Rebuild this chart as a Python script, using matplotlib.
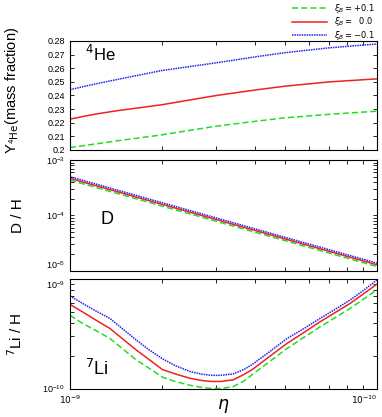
import matplotlib
matplotlib.use('Agg')
import matplotlib.pyplot as plt
from matplotlib.ticker import FixedLocator, FuncFormatter, NullFormatter

plt.rcParams['font.family'] = ['Liberation Sans', 'DejaVu Sans']
plt.rcParams['mathtext.fontset'] = 'dejavusans'

labels = [r'$\xi_B = +0.1$', r'$\xi_B =\ \ 0.0$', r'$\xi_B = -0.1$']
colors = ['#22dd22', '#ee2222', '#2222ee']
styles = [(0, (4, 2)), '-', (0, (1, 0.6))]

# helium-4 mass fraction, eta in units of 1e-10
eta_he = [1.0, 1.2, 1.42, 1.99, 2.5, 3.0, 4.0, 5.0, 7.0, 10.0]
he_plus = [0.2018, 0.2043, 0.2067, 0.2111, 0.2147, 0.2175, 0.2210, 0.2236, 0.2262, 0.2285]
he_zero = [0.2227, 0.2262, 0.2288, 0.2332, 0.2370, 0.2400, 0.2440, 0.2468, 0.2500, 0.2522]
he_minus = [0.2443, 0.2483, 0.2517, 0.2583, 0.2615, 0.2640, 0.2683, 0.2714, 0.2750, 0.2778]

# deuterium
eta_d = [1.0, 2.0, 3.0, 5.0, 10.0]
d_plus = [4.32e-4, 1.46e-4, 7.76e-5, 3.49e-5, 1.18e-5]
d_zero = [4.65e-4, 1.57e-4, 8.34e-5, 3.75e-5, 1.27e-5]
d_minus = [4.98e-4, 1.68e-4, 8.92e-5, 4.01e-5, 1.36e-5]

# lithium-7 (units of 1e-10)
eta_li = [1.0, 1.1, 1.2, 1.35, 1.5, 1.65, 1.8, 2.0, 2.2, 2.46, 2.7, 2.9,
          3.1, 3.4, 3.7, 3.95, 4.5, 5.08, 5.8, 6.52, 7.3, 8.17, 9.0, 10.0]
li_plus = [4.67, 3.92, 3.45, 2.86, 2.25, 1.81, 1.55, 1.27, 1.16, 1.07, 1.02, 1.0,
           1.0, 1.04, 1.18, 1.36, 1.79, 2.31, 2.95, 3.65, 4.44, 5.38, 6.5, 8.0]
li_zero = [5.86, 5.0, 4.3, 3.53, 2.77, 2.23, 1.86, 1.49, 1.36, 1.24, 1.18, 1.16,
           1.16, 1.20, 1.35, 1.51, 1.99, 2.57, 3.27, 4.06, 4.93, 5.98, 7.26, 9.0]
li_minus = [7.0, 5.98, 5.2, 4.36, 3.42, 2.75, 2.28, 1.87, 1.62, 1.43, 1.35, 1.32,
            1.32, 1.36, 1.50, 1.68, 2.20, 2.85, 3.55, 4.36, 5.28, 6.42, 7.8, 9.8]

fig = plt.figure(figsize=(3.82, 4.17), dpi=100)
ax1 = fig.add_axes([0.1832, 0.6403, 0.8037, 0.2614])
ax2 = fig.add_axes([0.1832, 0.3513, 0.8037, 0.2650])
ax3 = fig.add_axes([0.1832, 0.0683, 0.8037, 0.2626])

def scale(vals, f):
    return [v * f for v in vals]

handles = []
for ys, c, ls, lab in zip([he_plus, he_zero, he_minus], colors, styles, labels):
    h, = ax1.plot(scale(eta_he, 1e-10), ys, color=c, ls=ls, lw=1.1, label=lab)
    handles.append(h)
for ys, c, ls in zip([d_plus, d_zero, d_minus], colors, styles):
    ax2.plot(scale(eta_d, 1e-10), ys, color=c, ls=ls, lw=1.1)
for ys, c, ls in zip([li_plus, li_zero, li_minus], colors, styles):
    ax3.plot(scale(eta_li, 1e-10), scale(ys, 1e-10), color=c, ls=ls, lw=1.1)

for ax in (ax1, ax2, ax3):
    ax.set_xscale('log')
    ax.set_xlim(1e-10, 1e-9)
    ax.tick_params(which='both', direction='in', top=True, right=True,
                   labelsize=6.5, length=3, width=0.6)
    for s in ax.spines.values():
        s.set_linewidth(0.8)
    ax.xaxis.set_minor_formatter(NullFormatter())

ax1.set_ylim(0.2, 0.28)
ax1.yaxis.set_major_locator(FixedLocator([0.2 + 0.01 * i for i in range(9)]))
ax1.yaxis.set_major_formatter(FuncFormatter(lambda v, p: f'{v:.2f}'.rstrip('0')))
ax1.set_xticklabels([])
ax1.set_ylabel(r'Y$_{^4\mathrm{He}}$(mass fraction)', fontsize=10.5)
ax1.yaxis.set_label_coords(-0.16, 0.55)
ax1.text(0.05, 0.82, r'$^4$He', transform=ax1.transAxes, fontsize=12)

ax2.set_yscale('log')
ax2.set_ylim(1e-5, 1e-3)
ax2.set_yticks([1e-5, 1e-4, 1e-3])
ax2.yaxis.set_minor_formatter(NullFormatter())
ax2.set_xticklabels([])
ax2.set_ylabel('D / H', fontsize=11)
ax2.yaxis.set_label_coords(-0.145, 0.5)
ax2.text(0.1, 0.42, 'D', transform=ax2.transAxes, fontsize=13)

ax3.set_yscale('log')
ax3.set_ylim(1e-10, 1e-9)
ax3.set_yticks([1e-10, 1e-9])
ax3.yaxis.set_minor_formatter(NullFormatter())
ax3.xaxis.set_major_locator(FixedLocator([1e-10, 1e-9]))
ax3.set_xticklabels([r'$10^{-9}$', r'$10^{-10}$'])
ax3.get_xticklabels()[1].set_ha('right')
ax3.set_ylabel(r'$^7$Li / H', fontsize=11)
ax3.yaxis.set_label_coords(-0.145, 0.5)
ax3.set_xlabel(r'$\eta$', fontsize=12.5, labelpad=-6)
ax3.text(0.05, 0.12, r'$^7$Li', transform=ax3.transAxes, fontsize=13)

# keep the crowded labels between the lower panels apart
ax2.get_yticklabels()[0].set_va('bottom')
ax3.get_yticklabels()[-1].set_va('top')

fig.legend(handles=handles, loc='upper right', bbox_to_anchor=(0.985, 1.0),
           frameon=False, fontsize=6, handlelength=4.2, labelspacing=0.1,
           handletextpad=0.8, borderpad=0.2, borderaxespad=0)

fig.savefig('out.png', dpi=100)
